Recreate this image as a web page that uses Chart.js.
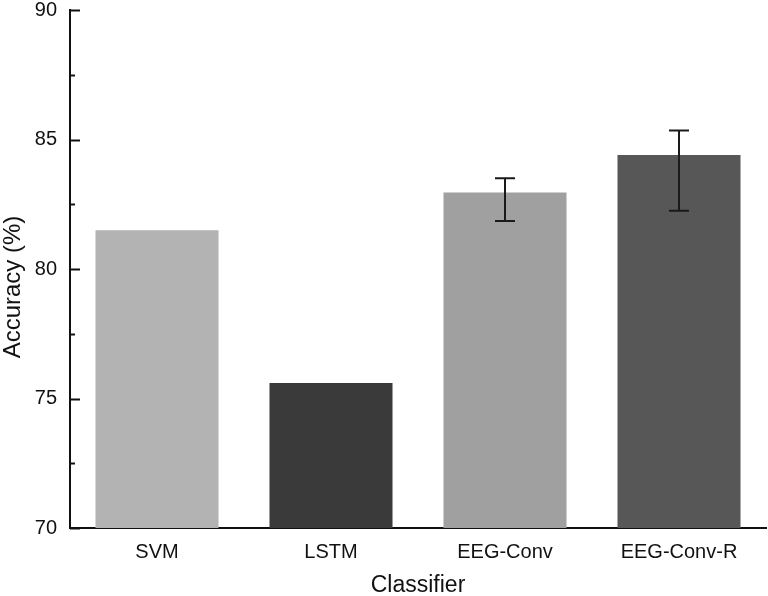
<!DOCTYPE html>
<html>
<head>
<meta charset="utf-8">
<script src="https://cdn.jsdelivr.net/npm/chart.js@4/dist/chart.umd.min.js"></script>
<style>
  html, body { margin: 0; padding: 0; background: #fff; }
  #wrap { width: 768px; height: 596px; }
</style>
</head>
<body>
<div id="wrap"><canvas id="accChart" width="768" height="596"></canvas></div>
<script>
// data
const classifiers = ["SVM", "LSTM", "EEG-Conv", "EEG-Conv-R"];
const accuracy = [81.5, 75.6, 82.95, 84.4];
const errLow = [null, null, 81.85, 82.25];
const errHigh = [null, null, 83.5, 85.35];
const barColors = ["#b3b3b3", "#3a3a3a", "#a0a0a0", "#575757"];
const majorTicks = [70, 75, 80, 85, 90];
const minorTicks = [72.5, 77.5, 82.5, 87.5];

const FONT = "'Liberation Sans', Arial, sans-serif";

// inward tick marks on the y axis + rotated y title
const axisDecor = {
  id: "axisDecor",
  afterDraw(chart) {
    const { ctx, scales: { y }, chartArea } = chart;
    ctx.save();
    ctx.strokeStyle = "#111";
    ctx.lineWidth = 2;
    majorTicks.forEach((v) => {
      const py = Math.round(y.getPixelForValue(v)) + 0.5;
      ctx.beginPath();
      ctx.moveTo(chartArea.left, py);
      ctx.lineTo(chartArea.left + 10, py);
      ctx.stroke();
    });
    minorTicks.forEach((v) => {
      const py = Math.round(y.getPixelForValue(v)) + 0.5;
      ctx.beginPath();
      ctx.moveTo(chartArea.left, py);
      ctx.lineTo(chartArea.left + 5, py);
      ctx.stroke();
    });
    ctx.fillStyle = "#111";
    ctx.font = "24px " + FONT;
    ctx.textAlign = "center";
    ctx.textBaseline = "middle";
    ctx.translate(13, 287);
    ctx.rotate(-Math.PI / 2);
    ctx.fillText("Accuracy (%)", 0, 0);
    ctx.restore();
  },
};

// error bars
const errorBars = {
  id: "errorBars",
  afterDatasetsDraw(chart) {
    const { ctx, scales: { x, y } } = chart;
    ctx.save();
    ctx.strokeStyle = "#1a1a1a";
    ctx.lineWidth = 2;
    classifiers.forEach((c, i) => {
      if (errLow[i] == null) return;
      const px = Math.round(x.getPixelForValue(i));
      const top = y.getPixelForValue(errHigh[i]);
      const bot = y.getPixelForValue(errLow[i]);
      ctx.beginPath();
      ctx.moveTo(px, top);
      ctx.lineTo(px, bot);
      ctx.moveTo(px - 10, top);
      ctx.lineTo(px + 10, top);
      ctx.moveTo(px - 10, bot);
      ctx.lineTo(px + 10, bot);
      ctx.stroke();
    });
    ctx.restore();
  },
};

new Chart(document.getElementById("accChart"), {
  type: "bar",
  data: {
    labels: classifiers,
    datasets: [
      {
        data: accuracy,
        backgroundColor: barColors,
        borderWidth: 0,
        barPercentage: 0.707,
        categoryPercentage: 1,
      },
    ],
  },
  options: {
    responsive: false,
    animation: false,
    layout: { padding: { top: 10, right: 2, left: 0, bottom: 0 } },
    plugins: {
      legend: { display: false },
      tooltip: { enabled: false },
    },
    scales: {
      x: {
        grid: { display: false, drawTicks: false },
        border: { display: true, color: "#111", width: 2 },
        ticks: { color: "#111", font: { family: FONT, size: 20 }, padding: 12 },
        title: {
          display: true,
          text: "Classifier",
          color: "#111",
          font: { family: FONT, size: 23, lineHeight: 1 },
          padding: { top: 0, bottom: -1 },
        },
        afterFit(scale) {
          scale.height = 68;
          scale.paddingLeft = 0;
          scale.paddingRight = 0;
        },
      },
      y: {
        min: 70,
        max: 90,
        grid: { display: false, drawTicks: false },
        border: { display: true, color: "#111", width: 2 },
        ticks: {
          stepSize: 5,
          color: "#111",
          font: { family: FONT, size: 20 },
          padding: 13,
        },
        afterFit(scale) {
          scale.width = 70;
          scale.paddingTop = 0;
          scale.paddingBottom = 0;
        },
      },
    },
  },
  plugins: [axisDecor, errorBars],
});
</script>
</body>
</html>
